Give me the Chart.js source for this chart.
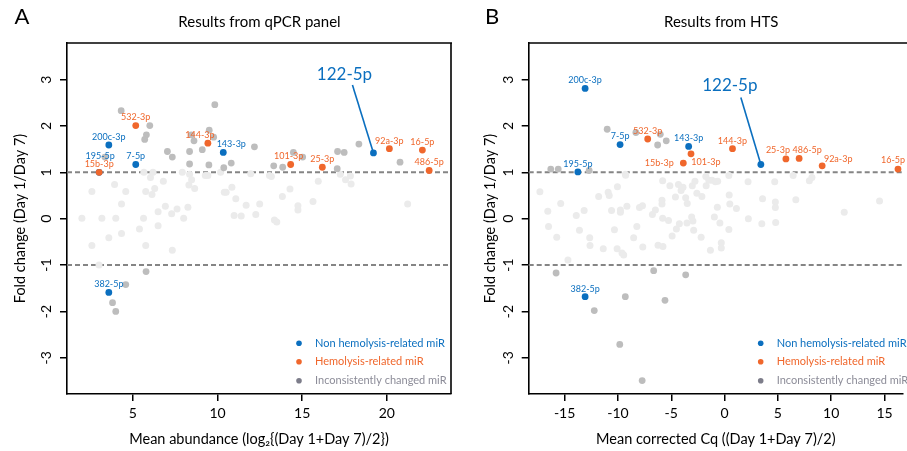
<!DOCTYPE html>
<html><head><meta charset="utf-8">
<script src="https://cdn.jsdelivr.net/npm/chart.js@4"></script>
<style>
html,body{margin:0;padding:0;background:#fff;}
#wrap{position:relative;width:907px;height:451px;overflow:hidden;}
#cA{position:absolute;left:0;top:0;width:455px;height:451px;}
#cB{position:absolute;left:455px;top:0;width:452px;height:451px;}
</style></head><body>
<div id="wrap"><canvas id="cA" width="455" height="451"></canvas><canvas id="cB" width="452" height="451"></canvas></div>
<script>
// ---------- shared ticks / texts ----------
const yTicks = [-3, -2, -1, 0, 1, 2, 3];
const thresholds = [1, -1];
const xTicksA = [5, 10, 15, 20];
const xTicksB = [-15, -10, -5, 0, 5, 10, 15];
const legendNames = ["Non hemolysis-related miR", "Hemolysis-related miR", "Inconsistently changed miR"];

// ---------- Panel A: qPCR ----------
const A_blueNames = ["200c-3p", "195-5p", "7-5p", "143-3p", "122-5p", "382-5p"];
const A_blueX = [3.58, 3.01, 5.17, 10.34, 19.21, 3.58];
const A_blueY = [1.59, 1.00, 1.17, 1.43, 1.42, -1.59];
const A_orangeNames = ["532-3p", "15b-3p", "144-3p", "101-3p", "25-3p", "92a-3p", "16-5p", "486-5p"];
const A_orangeX = [5.17, 3.01, 9.43, 14.32, 16.19, 20.15, 22.10, 22.50];
const A_orangeY = [2.01, 1.00, 1.63, 1.17, 1.11, 1.51, 1.48, 1.04];
const A_greyX = [4.31, 9.84, 6.00, 5.80, 5.70, 7.04, 7.33, 8.35, 8.61, 8.45, 9.51, 9.77, 9.10, 9.49, 8.35, 10.37, 10.81, 12.18, 14.48, 15.03, 13.85, 13.32, 17.09, 17.48, 18.35, 20.78, 17.07, 3.35, 5.78, 4.58, 3.80, 3.99];
const A_greyY = [2.33, 2.46, 2.01, 1.81, 1.71, 1.45, 1.33, 1.45, 1.68, 1.81, 1.91, 1.76, 1.49, 1.16, 1.18, 1.10, 1.20, 1.55, 1.43, 1.33, 1.11, 1.14, 1.45, 1.43, 1.61, 1.22, 1.08, 1.33, -1.14, -1.42, -1.81, -2.00];
const A_lightX = [2.58, 3.92, 4.58, 4.33, 1.99, 3.17, 3.99, 5.63, 4.33, 3.58, 2.58, 5.76, 5.39, 5.76, 6.13, 6.29, 6.04, 6.80, 6.49, 6.49, 6.92, 7.29, 7.61, 8.25, 8.00, 7.33, 8.31, 8.47, 8.65, 8.35, 9.28, 9.43, 10.40, 10.51, 10.85, 11.08, 11.69, 12.49, 12.26, 10.98, 11.40, 11.96, 13.07, 13.18, 13.83, 14.28, 13.36, 13.50, 14.75, 14.75, 15.95, 15.64, 17.25, 17.85, 17.56, 17.89, 21.23, 5.65, 6.19, 7.92, 10.18, 3.00];
const A_lightY = [0.59, 0.74, 0.59, 0.32, 0.01, 0.01, 0.01, 0.01, -0.32, -0.41, -0.58, -0.58, -0.22, 0.59, 0.52, 0.65, 0.89, 0.81, 0.15, -0.15, 0.27, 0.11, 0.21, 0.25, 0.01, -0.68, 0.73, 0.84, 0.65, 0.96, 0.93, 0.93, 0.57, 0.57, 0.68, 0.43, 0.29, 0.32, 0.09, 0.07, 0.06, 0.97, 0.93, 0.91, 0.48, 0.64, -0.03, -0.07, 0.28, 0.19, 0.81, 0.37, 0.96, 0.92, 0.84, 0.75, 0.32, 1.00, 1.00, 1.00, 1.00, -1.00];

// ---------- Panel B: HTS ----------
const B_blueNames = ["200c-3p", "7-5p", "143-3p", "195-5p", "122-5p", "382-5p"];
const B_blueX = [-13.08, -9.80, -3.37, -13.76, 3.40, -13.08];
const B_blueY = [2.81, 1.60, 1.56, 1.01, 1.17, -1.68];
const B_orangeNames = ["532-3p", "101-3p", "15b-3p", "144-3p", "25-3p", "486-5p", "92a-3p", "16-5p"];
const B_orangeX = [-7.21, -3.15, -3.87, 0.74, 5.75, 6.99, 9.15, 16.26];
const B_orangeY = [1.72, 1.40, 1.20, 1.51, 1.29, 1.30, 1.14, 1.07];
const B_greyX = [-11.01, -8.32, -6.03, -5.47, -6.28, -16.30, -15.60, -12.70, -15.80, -6.65, -3.65, -9.31, -5.59, -12.22, -9.83, -7.73];
const B_greyY = [1.93, 1.86, 1.82, 1.68, 1.59, 1.07, 1.07, 1.04, -1.17, -1.12, -1.21, -1.68, -1.76, -1.98, -2.71, -3.49];
const B_lightX = [-17.32, -16.58, -16.51, -15.74, -15.37, -14.69, -13.91, -13.61, -13.17, -12.65, -12.62, -11.81, -11.38, -10.92, -10.82, -10.60, -10.33, -10.05, -10.08, -9.77, -9.77, -9.62, -9.46, -9.30, -9.16, -8.53, -8.23, -7.98, -7.70, -7.67, -6.77, -6.49, -6.24, -5.87, -5.87, -5.81, -5.81, -5.78, -5.26, -5.13, -4.92, -4.61, -4.52, -4.33, -4.24, -4.08, -3.90, -3.65, -3.50, -3.53, -3.09, -2.97, -2.90, -3.03, -2.78, -2.60, -2.20, -2.13, -1.76, -1.73, -1.48, -1.18, -0.86, -0.65, -1.33, -0.96, -0.68, -0.44, -0.31, -0.31, 0.40, 0.43, 0.49, 0.40, 1.11, 2.20, 2.23, 3.56, 3.49, 4.70, 6.43, 7.95, 8.19, 4.76, 4.76, 6.68, 4.79, 11.22, 14.53, -9.28];
const B_lightY = [0.58, 0.16, -0.17, -0.40, 0.33, -0.89, 0.07, -0.25, 0.18, -0.41, -0.58, 0.48, -0.65, 0.57, 0.50, 0.18, -0.24, 0.69, -0.65, 0.19, 0.14, -0.74, -0.78, 0.96, 0.27, -0.41, -0.17, 0.24, 0.28, -0.61, 0.09, 0.19, -0.57, 0.40, 0.32, 0.82, 0.01, -0.60, -0.04, 0.71, -0.37, 0.47, -0.22, 0.74, -0.11, 0.61, 0.68, 0.45, 0.33, -0.09, 0.04, -0.05, -0.25, 0.71, 0.81, 0.55, -0.40, 0.48, 0.91, 0.71, 0.83, 0.83, 0.80, 0.81, -0.68, 0.04, 0.25, -0.09, -0.52, -0.63, 0.93, 0.51, 0.32, -0.23, 0.22, 0.80, 0.00, 0.43, -0.11, 0.80, 0.93, 0.82, 0.89, 0.36, 0.24, 0.41, -0.08, 0.14, 0.38, 0.94];

// ---------- styles ----------
const FONT = "Lato, 'Open Sans', sans-serif";
const BLUE = '#0b6fbf';
const ORANGE = '#f0672c';
const GREY = '#bdbdbd';
const LIGHT = '#ebebeb';
const LEG_GREY_DOT = '#7d7d8a';
const LEG_GREY_TXT = '#8c8c98';

const pts = (xs, ys) => xs.map((x, i) => ({x: x, y: ys[i]}));

function decor(p) {
  return {
    id: 'decor' + p.letter,
    beforeDatasetsDraw(chart) {
      const {ctx, chartArea: a, scales: {y}} = chart;
      ctx.save();
      ctx.strokeStyle = '#858585';
      ctx.lineWidth = 2;
      ctx.setLineDash([5, 3]);
      thresholds.forEach(v => {
        const py = y.getPixelForValue(v);
        ctx.beginPath(); ctx.moveTo(a.left, py); ctx.lineTo(a.right, py); ctx.stroke();
      });
      ctx.restore();
    },
    afterDatasetsDraw(chart) {
      const ctx = chart.ctx;
      ctx.save();
      ctx.textAlign = 'center';
      ctx.textBaseline = 'middle';
      [[0, p.orangeNames, ORANGE], [1, p.blueNames, BLUE]].forEach(([di, names, col]) => {
        const meta = chart.getDatasetMeta(di);
        names.forEach((nm, i) => {
          const el = meta.data[i];
          if (nm === p.big.name) {
            ctx.strokeStyle = col; ctx.lineWidth = 1.6;
            ctx.beginPath();
            ctx.moveTo(el.x + p.big.line[0], el.y + p.big.line[1]);
            ctx.lineTo(el.x, el.y);
            ctx.stroke();
            ctx.fillStyle = col;
            ctx.font = '17px ' + FONT;
            ctx.fillText(nm, el.x + p.big.text[0], el.y + p.big.text[1]);
            return;
          }
          const off = p.offsets[nm] || [0, -8];
          ctx.fillStyle = col;
          ctx.font = '9px ' + FONT;
          ctx.fillText(nm, el.x + off[0], el.y + off[1]);
        });
      });
      ctx.restore();
    },
    afterDraw(chart) {
      const {ctx, chartArea: a} = chart;
      ctx.save();
      // frame (top and right)
      ctx.strokeStyle = '#000'; ctx.lineWidth = 1.6;
      ctx.beginPath();
      ctx.moveTo(a.left, a.top); ctx.lineTo(a.left + p.boxW, a.top);
      ctx.stroke();
      if (p.drawRight) {
        ctx.beginPath(); ctx.moveTo(a.right, a.top); ctx.lineTo(a.right, a.bottom); ctx.stroke();
      }
      // panel letter + title
      ctx.fillStyle = '#000';
      ctx.textAlign = 'center'; ctx.textBaseline = 'middle';
      ctx.font = '22px ' + FONT;
      ctx.fillText(p.letter, p.letterX, 17);
      ctx.font = '15px ' + FONT;
      ctx.fillText(p.title, a.left + p.boxW / 2, 22);
      // legend
      const cols = [[BLUE, BLUE], [ORANGE, ORANGE], [LEG_GREY_DOT, LEG_GREY_TXT]];
      const rows = [-50.7, -32.3, -13.3];
      ctx.font = '11px ' + FONT;
      ctx.textAlign = 'left';
      legendNames.forEach((t, i) => {
        const yy = a.bottom + rows[i];
        ctx.fillStyle = cols[i][0];
        ctx.beginPath(); ctx.arc(a.left + 232, yy, 2.8, 0, Math.PI * 2); ctx.fill();
        ctx.fillStyle = cols[i][1];
        ctx.fillText(t, a.left + 248, yy);
      });
      ctx.restore();
    }
  };
}

function makeChart(id, p) {
  return new Chart(document.getElementById(id), {
    type: 'scatter',
    data: {datasets: [
      {label: legendNames[1], data: pts(p.orangeX, p.orangeY), backgroundColor: ORANGE, pointRadius: 3.4, borderWidth: 0},
      {label: legendNames[0], data: pts(p.blueX, p.blueY), backgroundColor: BLUE, pointRadius: 3.4, borderWidth: 0},
      {label: legendNames[2], data: pts(p.greyX, p.greyY), backgroundColor: GREY, pointRadius: 3.4, borderWidth: 0},
      {label: 'unchanged', data: pts(p.lightX, p.lightY), backgroundColor: LIGHT, pointRadius: 3.5, borderWidth: 0}
    ]},
    options: {
      responsive: false, animation: false, events: [],
      layout: {padding: {left: 0, right: p.padRight, top: 43, bottom: 0}},
      plugins: {legend: {display: false}, tooltip: {enabled: false}, title: {display: false}},
      scales: {
        x: {
          type: 'linear', min: p.xMin, max: p.xMax,
          afterBuildTicks: s => { s.ticks = p.xTicks.map(v => ({value: v})); },
          afterFit: s => { s.height = 57; },
          grid: {drawOnChartArea: false, drawTicks: true, tickLength: 7, color: '#000', tickColor: '#000', lineWidth: 1.5},
          border: {display: true, color: '#000', width: 1.6},
          ticks: {color: '#000', font: {family: FONT, size: 14}, padding: 4, maxRotation: 0, minRotation: 0},
          title: {display: true, text: p.xTitle, color: '#000', font: {family: FONT, size: 14.5}, padding: {top: 0, bottom: 3}}
        },
        y: {
          type: 'linear', min: -3.78, max: 3.79,
          afterBuildTicks: s => { s.ticks = yTicks.map(v => ({value: v})); },
          afterFit: s => { s.width = p.yWidth; },
          grid: {drawOnChartArea: false, drawTicks: true, tickLength: 7, color: '#000', tickColor: '#000', lineWidth: 1.5},
          border: {display: true, color: '#000', width: 1.6},
          ticks: {color: '#000', font: {family: FONT, size: 14}, padding: 6.5, minRotation: 90, maxRotation: 90, crossAlign: 'center'},
          title: {display: true, text: 'Fold change (Day 1/Day 7)', color: '#000', font: {family: FONT, size: 14.5}, padding: {top: p.yTitlePad, bottom: 0}}
        }
      }
    },
    plugins: [decor(p)]
  });
}

makeChart('cA', {
  letter: 'A', letterX: 22, title: 'Results from qPCR panel', boxW: 385, drawRight: true,
  xMin: 1.11, xMax: 23.79, xTicks: xTicksA, padRight: 3, yWidth: 67, yTitlePad: 11.3,
  xTitle: 'Mean abundance (log\u2082{(Day 1+Day 7)/2})',
  blueNames: A_blueNames, blueX: A_blueX, blueY: A_blueY,
  orangeNames: A_orangeNames, orangeX: A_orangeX, orangeY: A_orangeY,
  greyX: A_greyX, greyY: A_greyY, lightX: A_lightX, lightY: A_lightY,
  offsets: {'195-5p': [1, -16], '143-3p': [8, -8], '144-3p': [-8, -8], '101-3p': [-2, -8]},
  big: {name: '122-5p', text: [-29, -78], line: [-21, -68]}
});

makeChart('cB', {
  letter: 'B', letterX: 37, title: 'Results from HTS', boxW: 385, drawRight: false,
  xMin: -18.37, xMax: 16.73, xTicks: xTicksB, padRight: 0, yWidth: 73.7, yTitlePad: 26.3,
  xTitle: 'Mean corrected Cq ((Day 1+Day 7)/2)',
  blueNames: B_blueNames, blueX: B_blueX, blueY: B_blueY,
  orangeNames: B_orangeNames, orangeX: B_orangeX, orangeY: B_orangeY,
  greyX: B_greyX, greyY: B_greyY, lightX: B_lightX, lightY: B_lightY,
  offsets: {'101-3p': [15, 8], '15b-3p': [-24, 0], '25-3p': [-8, -9], '486-5p': [8, -8], '92a-3p': [16, -7], '16-5p': [-5, -9]},
  big: {name: '122-5p', text: [-31, -79], line: [-20, -67]}
});
</script>
</body></html>
